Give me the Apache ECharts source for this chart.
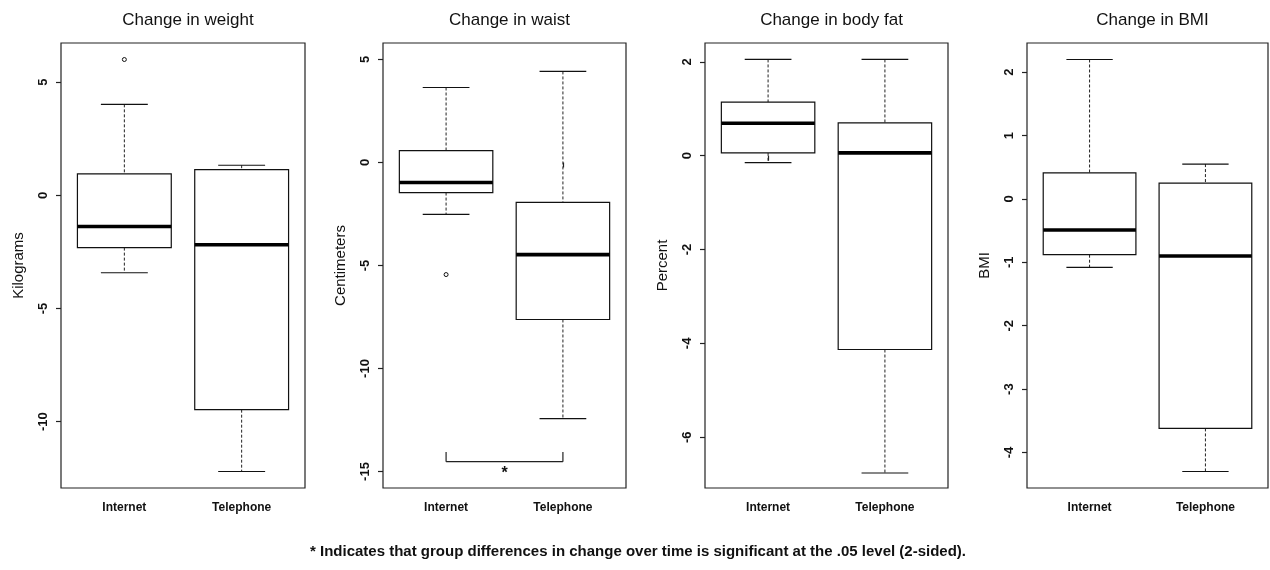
<!DOCTYPE html>
<html>
<head>
<meta charset="utf-8">
<script src="https://cdn.jsdelivr.net/npm/echarts@6/dist/echarts.min.js"></script>
<style>
  html, body { margin: 0; padding: 0; background: #fff; }
  #chart { width: 1270px; height: 570px; }
</style>
</head>
<body>
<div id="chart"></div>
<script>
// groups on the x axis (1 = Internet, 2 = Telephone)
var groups = ['Internet', 'Telephone'];
var panelTitles = ['Change in weight', 'Change in waist', 'Change in body fat', 'Change in BMI'];
var axisNames = ['Kilograms', 'Centimeters', 'Percent', 'BMI'];

// five-number summaries: [lower whisker, Q1, median, Q3, upper whisker]
var weightInternet = [-3.42, -2.31, -1.38, 0.95, 4.02];
var weightTelephone = [-12.2, -9.47, -2.18, 1.14, 1.33];
var waistInternet = [-2.52, -1.46, -0.97, 0.58, 3.64];
var waistTelephone = [-12.43, -7.62, -4.47, -1.94, 4.42];
var fatInternet = [-0.15, 0.06, 0.69, 1.14, 2.05];
var fatTelephone = [-6.76, -4.13, 0.06, 0.70, 2.05];
var bmiInternet = [-1.08, -0.88, -0.49, 0.41, 2.2];
var bmiTelephone = [-4.30, -3.62, -0.90, 0.25, 0.55];

// outliers: [group, value]
var weightOutliers = [[1, 6.0]];
var waistOutliers = [[1, -5.44]];
var fatOutliers = [];
var bmiOutliers = [];

// y tick labels and axis limits per panel
var weightTicks = [-10, -5, 0, 5];
var waistTicks = [-15, -10, -5, 0, 5];
var fatTicks = [-6, -4, -2, 0, 2];
var bmiTicks = [-4, -3, -2, -1, 0, 1, 2];
var yMins = [-12.93, -15.8, -7.08, -4.56];
var yMaxs = [6.73, 5.8, 2.40, 2.46];

// significance bracket in the waist panel: [from group, to group, y, tip y, star y]
var waistBracket = [1, 2, -14.52, -14.05, -15.1];

var footnote = '* Indicates that group differences in change over time is significant at the .05 level (2-sided).';

var boxes = [
  [weightInternet, weightTelephone],
  [waistInternet, waistTelephone],
  [fatInternet, fatTelephone],
  [bmiInternet, bmiTelephone]
];
var outliers = [weightOutliers, waistOutliers, fatOutliers, bmiOutliers];
var ticks = [weightTicks, waistTicks, fatTicks, bmiTicks];

var gridLefts = [61, 383, 705, 1027];
var gridWidths = [244, 243, 243, 241];
var FONT = '"Liberation Sans", Arial, sans-serif';

function renderBox(params, api) {
  var x = api.value(0);
  var lo = api.coord([x, api.value(1)]);
  var q1 = api.coord([x, api.value(2)]);
  var md = api.coord([x, api.value(3)]);
  var q3 = api.coord([x, api.value(4)]);
  var hi = api.coord([x, api.value(5)]);
  var bw = api.size([0.8, 0])[0];
  var cw = api.size([0.4, 0])[0];
  var cx = lo[0];
  var line = { stroke: '#111', lineWidth: 1.2 };
  var dash = { stroke: '#222', lineWidth: 1, lineDash: [3, 2] };
  return {
    type: 'group',
    children: [
      { type: 'line', shape: { x1: cx, y1: hi[1], x2: cx, y2: q3[1] }, style: dash },
      { type: 'line', shape: { x1: cx, y1: q1[1], x2: cx, y2: lo[1] }, style: dash },
      { type: 'line', shape: { x1: cx - cw / 2, y1: hi[1], x2: cx + cw / 2, y2: hi[1] }, style: line },
      { type: 'line', shape: { x1: cx - cw / 2, y1: lo[1], x2: cx + cw / 2, y2: lo[1] }, style: line },
      { type: 'rect', shape: { x: cx - bw / 2, y: q3[1], width: bw, height: q1[1] - q3[1] },
        style: { fill: '#fff', stroke: '#111', lineWidth: 1.2 } },
      { type: 'line', shape: { x1: cx - bw / 2, y1: md[1], x2: cx + bw / 2, y2: md[1] },
        style: { stroke: '#000', lineWidth: 3.6 } }
    ]
  };
}

function renderOutlier(params, api) {
  var p = api.coord([api.value(0), api.value(1)]);
  return {
    type: 'circle',
    shape: { cx: p[0], cy: p[1], r: 2 },
    style: { fill: '#fff', stroke: '#111', lineWidth: 1 }
  };
}

function renderBracket(params, api) {
  var a = api.coord([api.value(0), api.value(2)]);
  var b = api.coord([api.value(1), api.value(2)]);
  var ta = api.coord([api.value(0), api.value(3)]);
  var s = api.coord([(api.value(0) + api.value(1)) / 2, api.value(4)]);
  var st = { stroke: '#222', lineWidth: 1.2 };
  return {
    type: 'group',
    children: [
      { type: 'line', shape: { x1: a[0], y1: a[1], x2: b[0], y2: b[1] }, style: st },
      { type: 'line', shape: { x1: a[0], y1: a[1], x2: ta[0], y2: ta[1] }, style: st },
      { type: 'line', shape: { x1: b[0], y1: b[1], x2: b[0], y2: ta[1] }, style: st },
      { type: 'text', x: s[0], y: s[1],
        style: { text: '*', fill: '#111', font: 'bold 16px ' + FONT, align: 'center', verticalAlign: 'middle' } }
    ]
  };
}

var grids = [], xAxes = [], yAxes = [], series = [], titles = [];

for (var i = 0; i < 4; i++) {
  grids.push({
    left: gridLefts[i], top: 43, width: gridWidths[i], height: 445,
    show: true, borderColor: '#222', borderWidth: 1.2, backgroundColor: 'transparent'
  });
  xAxes.push({
    type: 'value', gridIndex: i, min: 0.46, max: 2.54,
    splitLine: { show: false },
    axisLine: { show: false },
    axisTick: { show: true, customValues: [1, 2], length: 5, lineStyle: { color: '#222', width: 1.2 } },
    axisLabel: {
      customValues: [1, 2], margin: 14, color: '#111',
      fontFamily: FONT, fontSize: 12, fontWeight: 'bold',
      formatter: function (v) { return groups[Math.round(v) - 1]; }
    }
  });
  yAxes.push({
    type: 'value', gridIndex: i, min: yMins[i], max: yMaxs[i],
    name: axisNames[i], nameLocation: 'middle', nameGap: 35,
    nameTextStyle: { fontFamily: FONT, fontSize: 15, color: '#111' },
    splitLine: { show: false },
    axisLine: { show: false },
    axisTick: { show: true, customValues: ticks[i], length: 5, lineStyle: { color: '#222', width: 1.2 } },
    axisLabel: {
      customValues: ticks[i], rotate: 90, margin: 11, color: '#111',
      fontFamily: FONT, fontSize: 13, fontWeight: 'bold'
    }
  });
  titles.push({
    text: panelTitles[i], left: gridLefts[i] + gridWidths[i] / 2, top: 7, textAlign: 'center',
    textStyle: { fontFamily: FONT, fontSize: 17, fontWeight: 'normal', color: '#111' }
  });
  series.push({
    type: 'custom', xAxisIndex: i, yAxisIndex: i,
    renderItem: renderBox,
    encode: { x: 0, y: [1, 2, 3, 4, 5] },
    data: boxes[i].map(function (b, g) { return [g + 1].concat(b); }),
    silent: true
  });
  series.push({
    type: 'custom', xAxisIndex: i, yAxisIndex: i,
    renderItem: renderOutlier,
    encode: { x: 0, y: 1 },
    data: outliers[i], silent: true
  });
}

series.push({
  type: 'custom', xAxisIndex: 1, yAxisIndex: 1,
  renderItem: renderBracket,
  encode: { x: [0, 1], y: 2 },
  data: [waistBracket], silent: true
});

titles.push({
  text: footnote, left: 633, top: 539, textAlign: 'center',
  textStyle: { fontFamily: FONT, fontSize: 15, fontWeight: 'bold', color: '#111' }
});

var chart = echarts.init(document.getElementById('chart'), null, { renderer: 'canvas' });
chart.setOption({
  animation: false,
  backgroundColor: '#fff',
  title: titles,
  grid: grids,
  xAxis: xAxes,
  yAxis: yAxes,
  series: series
});
</script>
</body>
</html>
